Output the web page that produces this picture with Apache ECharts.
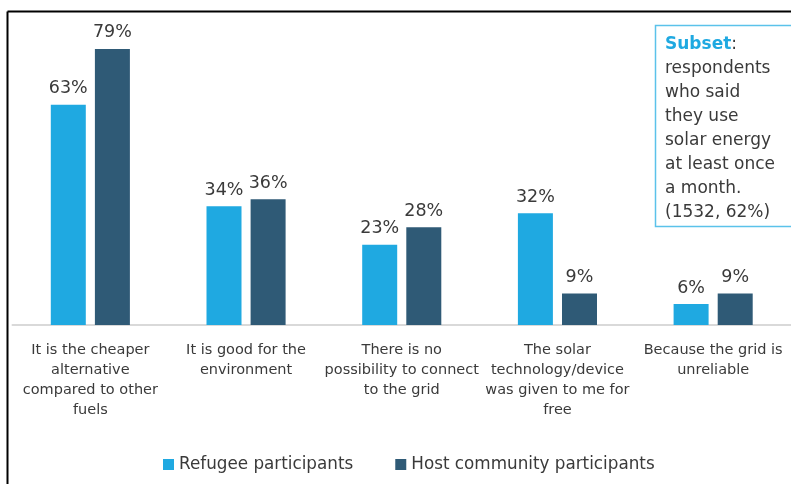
<!DOCTYPE html>
<html>
<head>
<meta charset="utf-8">
<script src="https://cdn.jsdelivr.net/npm/echarts@6/dist/echarts.min.js"></script>
<style>
  html, body { margin: 0; padding: 0; background: #fff; }
  #chart { width: 791px; height: 484px; }
</style>
</head>
<body>
<div id="chart"></div>
<script>
// Reasons for using solar energy, by participant group (%)
const categories = [
  'It is the cheaper\nalternative\ncompared to other\nfuels',
  'It is good for the\nenvironment',
  'There is no\npossibility to connect\nto the grid',
  'The solar\ntechnology/device\nwas given to me for\nfree',
  'Because the grid is\nunreliable'
];
const refugeeValues = [63, 34, 23, 32, 6];
const hostValues = [79, 36, 28, 9, 9];
const seriesNames = ['Refugee participants', 'Host community participants'];
const noteLines = ['respondents', 'who said', 'they use', 'solar energy', 'at least once', 'a month.', '(1532, 62%)'];

const FONT = '"DejaVu Sans", Verdana, sans-serif';
const TEXT = '#3A3A3A';
const LIGHT = '#1FA9E1';
const DARK = '#2F5A76';

const chart = echarts.init(document.getElementById('chart'), null, { renderer: 'canvas' });

const labelStyle = {
  show: true,
  position: 'top',
  distance: 7,
  formatter: '{c}%',
  fontFamily: FONT,
  fontSize: 17.5,
  color: TEXT
};

chart.setOption({
  animation: false,
  backgroundColor: '#ffffff',
  grid: { left: 12.5, width: 785, top: 10.5, height: 314.5, containLabel: false },
  xAxis: {
    type: 'category',
    data: categories,
    axisLine: { lineStyle: { color: '#D9D9D9', width: 2 } },
    axisTick: { show: false },
    axisLabel: {
      interval: 0,
      margin: 15,
      fontFamily: FONT,
      fontSize: 14.5,
      lineHeight: 20,
      color: TEXT,
      align: 'center'
    }
  },
  yAxis: {
    type: 'value',
    min: 0,
    max: 90,
    show: false,
    splitLine: { show: false }
  },
  legend: {
    data: seriesNames,
    bottom: 6,
    left: 158,
    itemWidth: 11,
    itemHeight: 11,
    itemGap: 42,
    icon: 'rect',
    textStyle: { fontFamily: FONT, fontSize: 16.8, color: TEXT }
  },
  series: [
    {
      name: seriesNames[0],
      type: 'bar',
      data: refugeeValues,
      barWidth: 35,
      barGap: '26%',
      itemStyle: { color: LIGHT },
      label: labelStyle
    },
    {
      name: seriesNames[1],
      type: 'bar',
      data: hostValues,
      barWidth: 35,
      barGap: '26%',
      itemStyle: { color: DARK },
      label: labelStyle
    }
  ],
  graphic: [
    // frame lines along the top and left edges
    { type: 'line', shape: { x1: 7.5, y1: 11.5, x2: 800, y2: 11.5 }, style: { stroke: '#000', lineWidth: 2 } },
    { type: 'line', shape: { x1: 7.5, y1: 11.5, x2: 7.5, y2: 500 }, style: { stroke: '#000', lineWidth: 2 } },
    // subset note box
    {
      type: 'rect',
      shape: { x: 655.5, y: 25.5, width: 160, height: 201 },
      style: { fill: '#fff', stroke: '#5BC2EA', lineWidth: 1.5 }
    },
    {
      type: 'text',
      left: 665,
      top: 33,
      style: {
        text: '{b|Subset}{n|:}\n' + noteLines.map(l => '{n|' + l + '}').join('\n'),
        fontFamily: FONT,
        fontSize: 17,
        lineHeight: 24,
        fill: TEXT,
        rich: {
          b: { fontFamily: FONT, fontSize: 17, fontWeight: 'bold', fill: LIGHT, lineHeight: 24 },
          n: { fontFamily: FONT, fontSize: 17, fill: TEXT, lineHeight: 24 }
        }
      }
    }
  ]
});
</script>
</body>
</html>
